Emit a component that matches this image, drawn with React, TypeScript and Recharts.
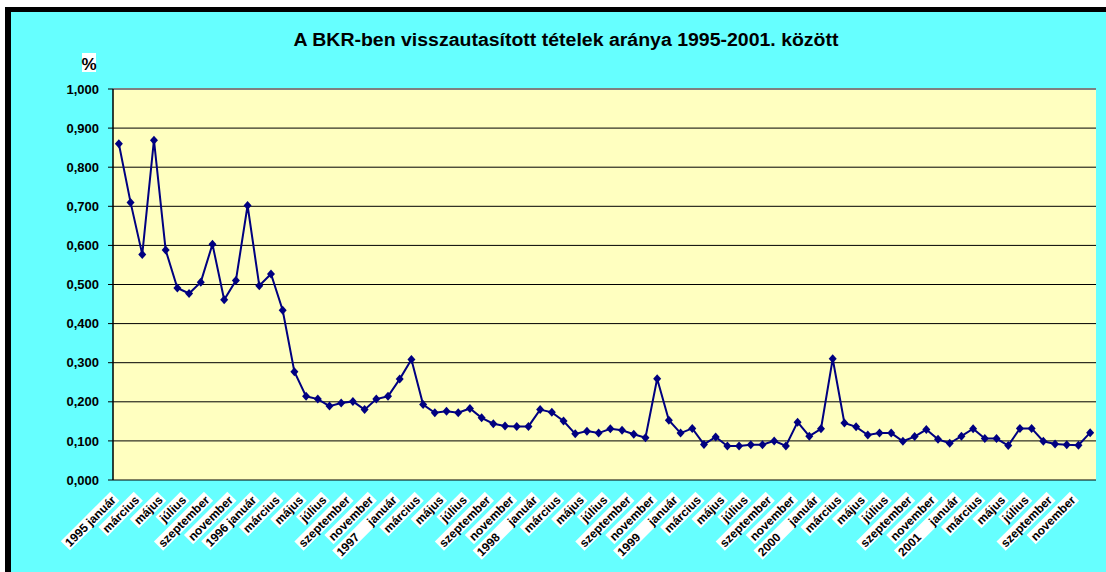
import { LineChart, Line, XAxis, YAxis, CartesianGrid, ReferenceLine } from "recharts";

// A BKR-ben visszautasított tételek aránya, havonta (%), 1995 január - 2001 december
const rate1995 = [0.860, 0.710, 0.577, 0.869, 0.588, 0.491, 0.477, 0.506, 0.603, 0.461, 0.510, 0.702];
const rate1996 = [0.497, 0.527, 0.434, 0.277, 0.214, 0.207, 0.189, 0.197, 0.201, 0.180, 0.207, 0.214];
const rate1997 = [0.258, 0.308, 0.193, 0.172, 0.176, 0.172, 0.183, 0.159, 0.144, 0.138, 0.137, 0.137];
const rate1998 = [0.180, 0.173, 0.151, 0.118, 0.125, 0.120, 0.131, 0.127, 0.117, 0.108, 0.259, 0.153];
const rate1999 = [0.120, 0.132, 0.091, 0.110, 0.087, 0.087, 0.090, 0.090, 0.100, 0.087, 0.148, 0.112];
const rate2000 = [0.131, 0.310, 0.146, 0.136, 0.115, 0.120, 0.120, 0.099, 0.111, 0.129, 0.104, 0.094];
const rate2001 = [0.112, 0.131, 0.106, 0.106, 0.088, 0.132, 0.132, 0.099, 0.092, 0.090, 0.089, 0.121];

const years = [1995, 1996, 1997, 1998, 1999, 2000, 2001];
const monthNames = [
  "január", "február", "március", "április", "május", "június",
  "július", "augusztus", "szeptember", "október", "november", "december",
];

// every second month is labelled on the axis
const gap = "\u00a0\u00a0\u00a0\u00a0\u00a0";
const tickLabels = [
  "1995 január", "március", "május", "július", "szeptember", "november",
  "1996 január", "március", "május", "július", "szeptember", "november",
  `1997${gap}január`, "március", "május", "július", "szeptember", "november",
  `1998${gap}január`, "március", "május", "július", "szeptember", "november",
  `1999${gap}január`, "március", "május", "július", "szeptember", "november",
  `2000${gap}január`, "március", "május", "július", "szeptember", "november",
  `2001${gap}január`, "március", "május", "július", "szeptember", "november",
];

const yTicks = [0, 0.1, 0.2, 0.3, 0.4, 0.5, 0.6, 0.7, 0.8, 0.9, 1.0];

const values = [...rate1995, ...rate1996, ...rate1997, ...rate1998, ...rate1999, ...rate2000, ...rate2001];
const months = years.flatMap((y) => monthNames.map((m) => `${y} ${m}`));
const data = values.map((v, i) => ({ pos: i + 0.5, month: months[i], value: v }));

const boundaryTicks = months.map((_, i) => i).concat(months.length);
const labelTicks = tickLabels.map((_, i) => i * 2 + 0.5);

const FONT = "'Liberation Sans', Arial, sans-serif";
const NAVY = "#000080";

// Arial bold advance widths (em) for the label characters
const charW: Record<string, number> = {
  " ": 0.278, "\u00a0": 0.278, a: 0.556, á: 0.556, b: 0.611, c: 0.556, e: 0.556, i: 0.278, j: 0.278,
  l: 0.278, m: 0.889, n: 0.611, o: 0.611, p: 0.611, r: 0.389, s: 0.556, t: 0.333, u: 0.611,
  ú: 0.611, v: 0.556, z: 0.5,
};
const textWidth = (s: string, fs: number) =>
  [...s].reduce((w, ch) => w + (charW[ch] ?? 0.556), 0) * fs;

const CatLabel = (props: any) => {
  const { x, y, payload } = props;
  const label = tickLabels[Math.floor(payload.value / 2)];
  const fs = 12;
  const w = textWidth(label, fs);
  return (
    <g transform={`translate(${x - 5},${y + 18}) rotate(-45)`}>
      <rect x={-w - 2} y={-7} width={w + 4} height={13} fill="#ffffff" />
      <text x={0} y={4} textAnchor="end" fontFamily={FONT} fontWeight="bold" fontSize={fs} fill="#000">
        {label}
      </text>
    </g>
  );
};

const Diamond = (props: any) => {
  const { cx, cy, index } = props;
  return (
    <path
      key={`d-${index}`}
      d={`M${cx},${cy - 4.5}L${cx + 4},${cy}L${cx},${cy + 4.5}L${cx - 4},${cy}Z`}
      fill={NAVY}
    />
  );
};

const App = () => {
  return (
    <div style={{ position: "fixed", left: 0, top: 0, width: 1106, height: 572, background: "#ffffff", overflow: "hidden" }}>
      <div
        style={{
          position: "absolute",
          left: 5,
          top: 7,
          width: 1101,
          height: 565,
          boxSizing: "border-box",
          borderLeft: "6px solid #000",
          borderTop: "5px solid #000",
          background: "#66ffff",
        }}
      />
      <div style={{ position: "absolute", left: 0, top: 0 }}>
        <LineChart width={1106} height={572} data={data} margin={{ top: 89, right: 10, left: 0, bottom: 0 }}>
          <CartesianGrid vertical={false} stroke="#000" strokeWidth={1} fill="#ffffc0" fillOpacity={1} />
          <XAxis
            xAxisId="cats"
            type="number"
            dataKey="pos"
            domain={[0, months.length]}
            ticks={boundaryTicks}
            interval={0}
            tick={false}
            tickSize={4}
            tickLine={{ stroke: "#000" }}
            axisLine={{ stroke: "#000", strokeWidth: 1.5 }}
            height={0}
          />
          <XAxis
            xAxisId="labels"
            type="number"
            dataKey="pos"
            domain={[0, months.length]}
            ticks={labelTicks}
            interval={0}
            tick={<CatLabel />}
            tickSize={0}
            tickMargin={0}
            tickLine={false}
            axisLine={false}
            height={92}
          />
          <YAxis
            domain={[0, 1]}
            ticks={yTicks}
            interval={0}
            width={113}
            tickSize={5}
            tickMargin={9}
            tickFormatter={(v: number) => v.toFixed(3).replace(".", ",")}
            tick={{ fontSize: 13, fontWeight: "bold", fill: "#000", fontFamily: FONT }}
            tickLine={{ stroke: "#000" }}
            axisLine={{ stroke: "#000", strokeWidth: 1.5 }}
          />
          <YAxis yAxisId="right" orientation="right" width={0} tick={false} tickLine={false} axisLine={{ stroke: "#808080", strokeWidth: 2 }} />
          <ReferenceLine y={1} xAxisId="cats" stroke="#808080" strokeWidth={2} />
          <Line
            xAxisId="cats"
            type="linear"
            dataKey="value"
            stroke={NAVY}
            strokeWidth={2}
            dot={<Diamond />}
            activeDot={false}
            isAnimationActive={false}
          />
        </LineChart>
      </div>
      <svg width={1106} height={572} style={{ position: "absolute", left: 0, top: 0, pointerEvents: "none" }}>
        <text
          x={566}
          y={46}
          textAnchor="middle"
          textLength={545}
          lengthAdjust="spacingAndGlyphs"
          fontFamily={FONT}
          fontWeight="bold"
          fontSize={17.5}
          fill="#000"
        >
          A BKR-ben visszautasított tételek aránya 1995-2001. között
        </text>
        <rect x={82} y={53} width={14} height={19} fill="#ffffff" />
        <text x={89} y={70} textAnchor="middle" fontFamily={FONT} fontWeight="bold" fontSize={17} fill="#000">
          %
        </text>
      </svg>
    </div>
  );
};

export default App;
